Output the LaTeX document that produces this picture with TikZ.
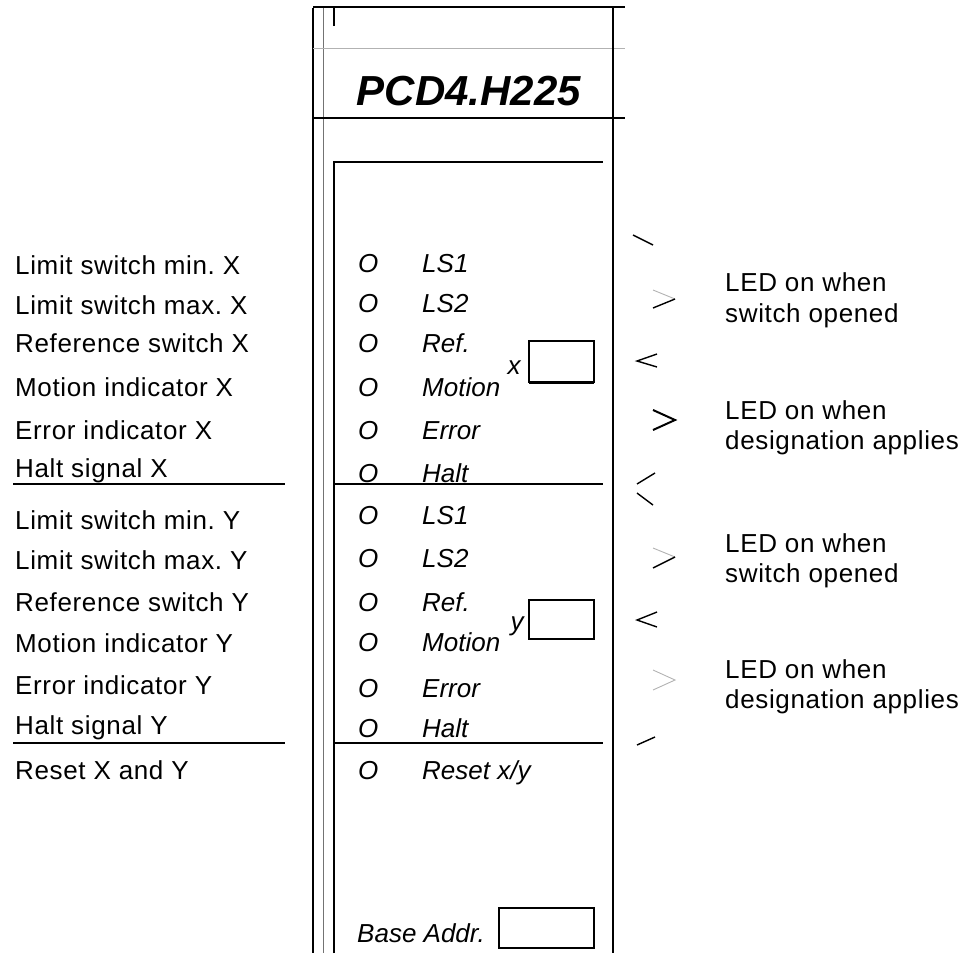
\documentclass[tikz,border=0pt]{standalone}
\usepackage{fontspec}
\setmainfont{Liberation Sans}
\newfontfamily\spaced[LetterSpace=2.5]{Liberation Sans}
\frenchspacing
\begin{document}
\begin{tikzpicture}[x=1pt,y=-1pt,
  lbl/.style={anchor=base west,inner sep=0pt,font=\spaced\fontsize{26}{26}\selectfont},
  ilbl/.style={anchor=base west,inner sep=0pt,font=\fontsize{26}{26}\selectfont\itshape},
  heavy/.style={line width=2.6pt},
  thinl/.style={line width=1.1pt},
  faint/.style={line width=0.9pt,black!30},
  chev/.style={line width=1.4pt},
  chevb/.style={line width=2pt}]
\useasboundingbox (0,0) rectangle (963,953);
% panel frame
\draw[heavy] (313,8) -- (313,953);
\draw[line width=1pt,black!55] (323,8) -- (323,953);
\draw[thinl] (313,7) -- (625,7);
\draw[heavy] (334,26) -- (334,7) -- (603,7);
\draw[faint] (313,48) -- (625,48);
\draw[heavy] (313,118) -- (625,118);
\draw[heavy] (334,953) -- (334,162) -- (603,162);
\draw[thinl] (613,7) -- (613,953);
\draw[heavy] (334,484) -- (603,484);
\draw[heavy] (334,743) -- (603,743);
\draw[heavy] (13,484) -- (285,484);
\draw[heavy] (13,743) -- (285,743);
% title
\node[anchor=base,inner sep=0pt,font=\fontsize{42}{42}\selectfont\bfseries\itshape] (title) at (469,105) {PCD4.H225};
% left labels
\node[lbl] (l1) at (15,274) {Limit switch min. X};
\node[lbl] (l2) at (15,314) {Limit switch max. X};
\node[lbl] (l3) at (15,352) {Reference switch X};
\node[lbl] (l4) at (15,396) {Motion indicator X};
\node[lbl] (l5) at (15,439) {Error indicator X};
\node[lbl] (l6) at (15,477) {Halt signal X};
\node[lbl] (l7) at (15,529) {Limit switch min. Y};
\node[lbl] (l8) at (15,569) {Limit switch max. Y};
\node[lbl] (l9) at (15,611) {Reference switch Y};
\node[lbl] (l10) at (15,652) {Motion indicator Y};
\node[lbl] (l11) at (15,694) {Error indicator Y};
\node[lbl] (l12) at (15,734) {Halt signal Y};
\node[lbl] (l13) at (15,779) {Reset X and Y};
% inner labels X
\foreach \yy/\t [count=\i] in {272/LS1,312/LS2,352/Ref.,396/Motion,439/Error,482/Halt}{
  \node[ilbl] (ox\i) at (358,\yy) {O};
  \node[ilbl] (tx\i) at (422,\yy) {\t};
}
\foreach \yy/\t [count=\i] in {524/LS1,567/LS2,611/Ref.,651/Motion,697/Error,737/Halt}{
  \node[ilbl] (oy\i) at (358,\yy) {O};
  \node[ilbl] (ty\i) at (422,\yy) {\t};
}
\node[ilbl] (or) at (358,779) {O};
\node[ilbl] (tr) at (422,779) {Reset x/y};
\node[ilbl] (ba) at (357,942) {Base Addr.};
% boxes
\draw[line width=1.6pt] (529,341) rectangle (594,382);
\draw[line width=3pt] (529,382) -- (594,382);
\node[ilbl,anchor=center] (xl) at (514,368) {x};
\draw[line width=1.6pt] (529,600) rectangle (594,639);
\node[ilbl,anchor=center] (yl) at (517,626) {y};
\draw[line width=1.6pt] (499,908) rectangle (594,948);
% right texts
\node[lbl] (r1) at (725,291) {LED on when};
\node[lbl] (r2) at (725,322) {switch opened};
\node[lbl] (r3) at (725,419) {LED on when};
\node[lbl] (r4) at (725,449) {designation applies};
\node[lbl] (r5) at (725,552) {LED on when};
\node[lbl] (r6) at (725,582) {switch opened};
\node[lbl] (r7) at (725,678) {LED on when};
\node[lbl] (r8) at (725,708) {designation applies};
% chevrons
\draw[chev] (633,235) -- (653,245);
\draw[faint] (653,290) -- (675,299);
\draw[chev] (675,299) -- (653,308);
\draw[chev] (657,354) -- (637,361) -- (657,367);
\draw[chevb] (653,410) -- (675,420) -- (653,430);
\draw[chev] (655,473) -- (637,484);
\draw[chev] (637,493) -- (653,505);
\draw[faint] (653,548) -- (675,557);
\draw[chev] (675,557) -- (653,568);
\draw[chev] (657,612) -- (637,620) -- (657,627);
\draw[faint] (653,670) -- (675,680) -- (653,690);
\draw[chev] (637,745) -- (655,737);
\end{tikzpicture}
\end{document}
